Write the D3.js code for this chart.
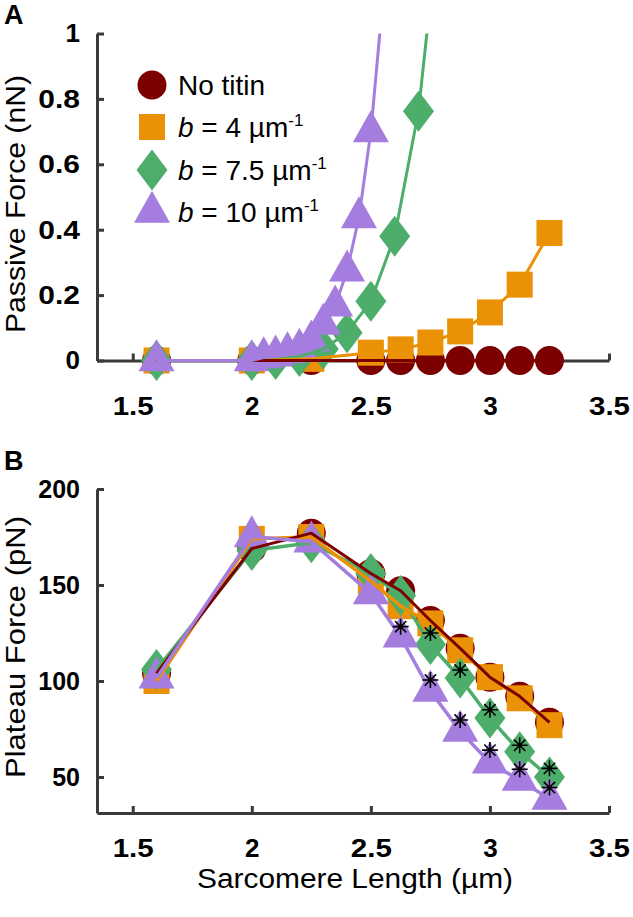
<!DOCTYPE html>
<html><head><meta charset="utf-8">
<script src="https://cdn.jsdelivr.net/npm/d3@7"></script>
<style>
body{margin:0;background:#fff}
text{font-family:"Liberation Sans",Arial,Helvetica,sans-serif}
</style>
</head><body>
<svg id="c" width="633" height="917"></svg>
<script>
// ---------- data ----------
const xTicks = [1.5, 2, 2.5, 3, 3.5];
const yTicksA = [0, 0.2, 0.4, 0.6, 0.8, 1];
const yTicksB = [50, 100, 150, 200];

const legendLabels = ["No titin", "4", "7.5", "10"];

// Panel A: passive force (nN)
const xA_noTitin = [1.6, 2.0, 2.25, 2.5, 2.625, 2.75, 2.875, 3.0, 3.125, 3.25];
const yA_noTitin = [0, 0, 0, 0, 0, 0, 0, 0, 0, 0];
const xA_b4 = [1.6, 2.0, 2.25, 2.5, 2.625, 2.75, 2.875, 3.0, 3.125, 3.25];
const yA_b4 = [0, 0, 0.005, 0.024, 0.034, 0.055, 0.089, 0.147, 0.232, 0.39];
const xA_b75 = [1.6, 2.0, 2.1, 2.2, 2.3, 2.4, 2.5, 2.6, 2.7];
const yA_b75 = [0, 0, 0.003, 0.012, 0.035, 0.085, 0.181, 0.38, 0.762];
const xA_b10 = [1.6, 2.0, 2.05, 2.1, 2.15, 2.2, 2.25, 2.3, 2.35, 2.4, 2.45, 2.5];
const yA_b10 = [0, 0, 0.009, 0.014, 0.024, 0.035, 0.06, 0.111, 0.167, 0.274, 0.437, 0.70];
// continuation of the fitted curves beyond the plotted range (clipped at 1)
const xA_b75Tail = [2.75];
const yA_b75Tail = [1.1];
const xA_b10Tail = [2.55];
const yA_b10Tail = [1.1];

// Panel B: plateau force (pN)
const xB = [1.6, 2.0, 2.25, 2.5, 2.625, 2.75, 2.875, 3.0, 3.125, 3.25];
const yB_noTitin = [104, 169, 177, 156, 147, 131.5, 117, 102, 92, 78.5];
const yB_b4 = [100, 174, 175, 152, 139, 130, 116, 102, 91, 77];
const yB_b75 = [106, 168, 172, 156, 144.5, 119, 101.5, 80.7, 63.2, 50];
const yB_b10 = [101.6, 175.2, 172.5, 145.5, 123, 94.8, 73.9, 57.4, 48.4, 38.5];
// significance asterisks
const xB_star75 = [2.75, 2.875, 3.0, 3.125, 3.25];
const yB_star75 = [125, 105.7, 85, 66.5, 54.5];
const xB_star10 = [2.625, 2.75, 2.875, 3.0, 3.125, 3.25];
const yB_star10 = [128.3, 100.5, 79.7, 64, 54, 44.5];

// ---------- styles ----------
const C_RED = "#7d0000", C_ORANGE = "#ea9106", C_GREEN = "#4dad6a", C_PURPLE = "#a47ddf";
const AXIS = "#3a3a3a";

const svg = d3.select("#c");

const x = d3.scaleLinear().domain([1.35, 3.5]).range([97, 609]);
const yA = d3.scaleLinear().domain([0, 1]).range([360.5, 33.5]);
const yB = d3.scaleLinear().domain([31.25, 200]).range([813, 489]);

function zip(xs, ys) { return xs.map((v, i) => [v, ys[i]]); }

function drawMarker(g, type, cx, cy, color) {
  if (type === "circle") {
    g.append("circle").attr("cx", cx).attr("cy", cy).attr("r", 14.5).attr("fill", color);
  } else if (type === "square") {
    g.append("rect").attr("x", cx - 13).attr("y", cy - 13).attr("width", 26).attr("height", 26).attr("fill", color);
  } else if (type === "diamond") {
    const w = 15.5, h = 20.5;
    g.append("path").attr("d", `M${cx},${cy - h}L${cx + w},${cy}L${cx},${cy + h}L${cx - w},${cy}Z`).attr("fill", color);
  } else if (type === "triangle") {
    const w = 18, h = 32;
    g.append("path").attr("d", `M${cx},${cy - 2 * h / 3}L${cx + w},${cy + h / 3}L${cx - w},${cy + h / 3}Z`).attr("fill", color);
  }
}
function drawStar(g, cx, cy) {
  const r = 8, d = r * 0.707;
  const p = `M${cx},${cy - r}V${cy + r}M${cx - r},${cy}H${cx + r}M${cx - d},${cy - d}L${cx + d},${cy + d}M${cx - d},${cy + d}L${cx + d},${cy - d}`;
  g.append("path").attr("d", p).attr("stroke", "#000").attr("stroke-width", 1.6).attr("fill", "none");
}

function styleAxis(g) {
  g.select(".domain").attr("stroke", AXIS).attr("stroke-width", 3);
  g.selectAll(".tick line").attr("stroke", AXIS).attr("stroke-width", 3);
  g.selectAll(".tick text").attr("fill", "#000").style("font-size", "26px").style("font-weight", "bold")
    .style("font-family", '"Liberation Sans",Arial,sans-serif');
}

function drawPanel(yScale, yTicks, xPad, series, lineTails, stars, clipId) {
  const root = svg.append("g");
  const xa = root.append("g").attr("transform", `translate(0,${yScale.range()[0]})`)
    .call(d3.axisBottom(x).tickValues(xTicks).tickSizeInner(-7).tickSizeOuter(0).tickPadding(xPad).tickFormat(d => String(d)));
  styleAxis(xa);
  xa.selectAll(".tick text").attr("textLength", d => String(d).length > 1 ? 41 : null).attr("lengthAdjust", "spacingAndGlyphs");
  const ya = root.append("g").attr("transform", `translate(${x.range()[0]},0)`)
    .call(d3.axisLeft(yScale).tickValues(yTicks).tickSizeInner(-7).tickSizeOuter(0).tickPadding(17).tickFormat(d => String(d)));
  styleAxis(ya);
  ya.selectAll(".tick text").attr("textLength", d => { const n = String(d).length; return n > 1 ? n * 13.9 : null; })
    .attr("lengthAdjust", "spacingAndGlyphs");

  svg.append("clipPath").attr("id", clipId).append("rect")
    .attr("x", x.range()[0]).attr("y", yScale.range()[1]).attr("width", x.range()[1] - x.range()[0] + 40)
    .attr("height", yScale.range()[0] - yScale.range()[1] + 40);
  const plot = root.append("g").attr("clip-path", `url(#${clipId})`);
  const mk = plot.append("g");
  series.forEach(s => zip(s.xs, s.ys).forEach(p => drawMarker(mk, s.type, x(p[0]), yScale(p[1]), s.color)));
  const line = d3.line().x(d => x(d[0])).y(d => yScale(d[1]));
  const lineOrder = [2, 1, 0, 3];
  lineOrder.forEach(i => {
    const s = series[i];
    let pts = zip(s.xs, s.ys);
    if (lineTails[i]) pts = pts.concat(zip(lineTails[i][0], lineTails[i][1]));
    plot.append("path").attr("d", line(pts)).attr("fill", "none").attr("stroke", s.color)
      .attr("stroke-width", s.lw).attr("stroke-linejoin", "round");
  });
  const st = root.append("g");
  stars.forEach(s => zip(s[0], s[1]).forEach(p => drawStar(st, x(p[0]), yScale(p[1]))));
}

// Panel A
drawPanel(yA, yTicksA, 36, [
  { xs: xA_noTitin, ys: yA_noTitin, type: "circle", color: C_RED, lw: 3 },
  { xs: xA_b4, ys: yA_b4, type: "square", color: C_ORANGE, lw: 3 },
  { xs: xA_b75, ys: yA_b75, type: "diamond", color: C_GREEN, lw: 3 },
  { xs: xA_b10, ys: yA_b10, type: "triangle", color: C_PURPLE, lw: 3 }
], [null, null, [xA_b75Tail, yA_b75Tail], [xA_b10Tail, yA_b10Tail]], [], "clipA");

// Panel B
drawPanel(yB, yTicksB, 25.5, [
  { xs: xB, ys: yB_noTitin, type: "circle", color: C_RED, lw: 3 },
  { xs: xB, ys: yB_b4, type: "square", color: C_ORANGE, lw: 3.5 },
  { xs: xB, ys: yB_b75, type: "diamond", color: C_GREEN, lw: 3.5 },
  { xs: xB, ys: yB_b10, type: "triangle", color: C_PURPLE, lw: 3.5 }
], [null, null, null, null], [[xB_star75, yB_star75], [xB_star10, yB_star10]], "clipB");

// Panel letters
svg.append("text").attr("x", 4).attr("y", 24).text("A").style("font-size", "27px").style("font-weight", "bold");
svg.append("text").attr("x", 4).attr("y", 470).text("B").style("font-size", "27px").style("font-weight", "bold");

// Axis titles
svg.append("text").attr("transform", "translate(25,204) rotate(-90)").attr("text-anchor", "middle")
  .attr("textLength", 258).attr("lengthAdjust", "spacingAndGlyphs")
  .style("font-size", "28px").text("Passive Force (nN)");
svg.append("text").attr("transform", "translate(25,647) rotate(-90)").attr("text-anchor", "middle")
  .attr("textLength", 262).attr("lengthAdjust", "spacingAndGlyphs")
  .style("font-size", "28px").text("Plateau Force (pN)");
svg.append("text").attr("x", 355).attr("y", 888).attr("text-anchor", "middle")
  .attr("textLength", 316).attr("lengthAdjust", "spacingAndGlyphs")
  .style("font-size", "27px").text("Sarcomere Length (µm)");

// Legend
const legTypes = ["circle", "square", "diamond", "triangle"];
const legColors = [C_RED, C_ORANGE, C_GREEN, C_PURPLE];
const legY = [85, 127, 170, 212];
const lg = svg.append("g");
legendLabels.forEach((lab, i) => {
  drawMarker(lg, legTypes[i], 152, legY[i], legColors[i]);
  const t = lg.append("text").attr("x", 178).attr("y", legY[i] + 10).style("font-size", "28px");
  if (i === 0) { t.text(lab); }
  else {
    t.append("tspan").style("font-style", "italic").text("b");
    t.append("tspan").text(" = " + lab + " µm");
    t.append("tspan").attr("dy", -11).style("font-size", "17px").text("-1");
  }
});
</script>
</body></html>
